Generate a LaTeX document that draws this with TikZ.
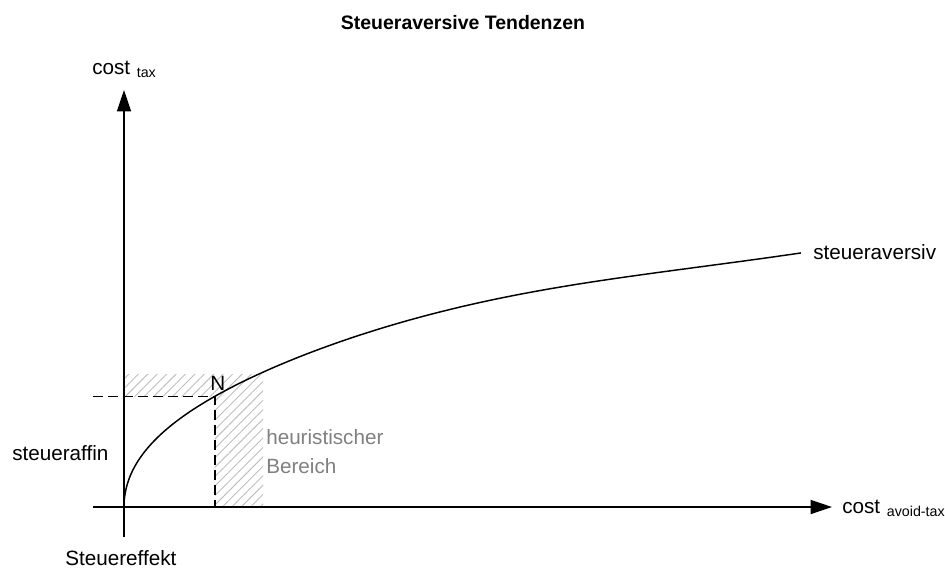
\documentclass[tikz,border=0pt]{standalone}
\usepackage{fontspec}
\setmainfont{Liberation Sans}
\usepackage{tikz}
\usetikzlibrary{positioning,arrows.meta,patterns.meta}
\tikzset{
  figlabel/.style={font=\fontsize{15.5}{21.75}\selectfont, inner sep=0pt, anchor=base west, align=left},
  figtitle/.style={font=\fontsize{14.6}{18}\selectfont\bfseries, inner sep=0pt, anchor=base},
  figaxis/.style={-{Triangle[length=16pt, width=10.5pt]}, line width=1.1pt},
  figcurve/.style={line width=1.1pt},
  figdash/.style={line width=1.1pt, dash pattern=on 7.5pt off 3.75pt},
  fighatch/.style={pattern={Lines[angle=45, distance=5pt, line width=0.7pt]}, pattern color=black!25},
}
\newcommand{\figsub}[1]{\hspace{5pt}\raisebox{-2.25pt}{\fontsize{10.7}{12}\selectfont #1}}

\begin{document}
\begin{tikzpicture}[x=0.75pt, y=-0.75pt]
  \useasboundingbox (0,0) rectangle (945,569);
  % Titel
  \node[figtitle] (titel) at (463,29) {Steueraversive Tendenzen};
  % Punkte
  \coordinate (O) at (124,507);
  \coordinate (xstart) at (93,507);
  \coordinate (xtip) at (832,507);
  \coordinate (ystart) at (124,537);
  \coordinate (ytip) at (124,90);
  \coordinate (N) at (215,396.5);
  \coordinate (Nlinks) at (93,396.5);
  \coordinate (Nunten) at (215,507);
  % heuristischer Bereich
  \fill[fighatch] (124,374) -- (263,374) -- (263,507) -- (215,507) -- (215,396.5) -- (124,396.5) -- cycle;
  % Achsen
  \draw[figaxis] (xstart) -- (xtip);
  \draw[figaxis] (ystart) -- (ytip);
  % Hilfslinien
  \draw[figdash] (Nlinks) -- (N) -- (Nunten);
  % Kurve
  \draw[figcurve] plot[domain=0:26.02, samples=160, variable=\s]
    ({124+\s*\s}, {507-477.6*ln(1+0.027*\s)-8*sin(\s*\s/677*180)^2});
  % Beschriftungen
  \node[figlabel] (ylabel) at (92,74) {cost\figsub{tax}};
  \node[figlabel] (xlabel) at (842,513) {cost\figsub{avoid-tax}};
  \node[figlabel] (Nlabel) at (210,390) {N};
  \node[figlabel] (aversiv) at (813,259) {steueraversiv};
  \node[figlabel] (affin) at (12,460) {steueraffin};
  \node[figlabel] (effekt) at (65,565) {Steuereffekt};
  \node[figlabel, text=black!50] (heuristik) at (266,473) {heuristischer\\Bereich};
\end{tikzpicture}
\end{document}
